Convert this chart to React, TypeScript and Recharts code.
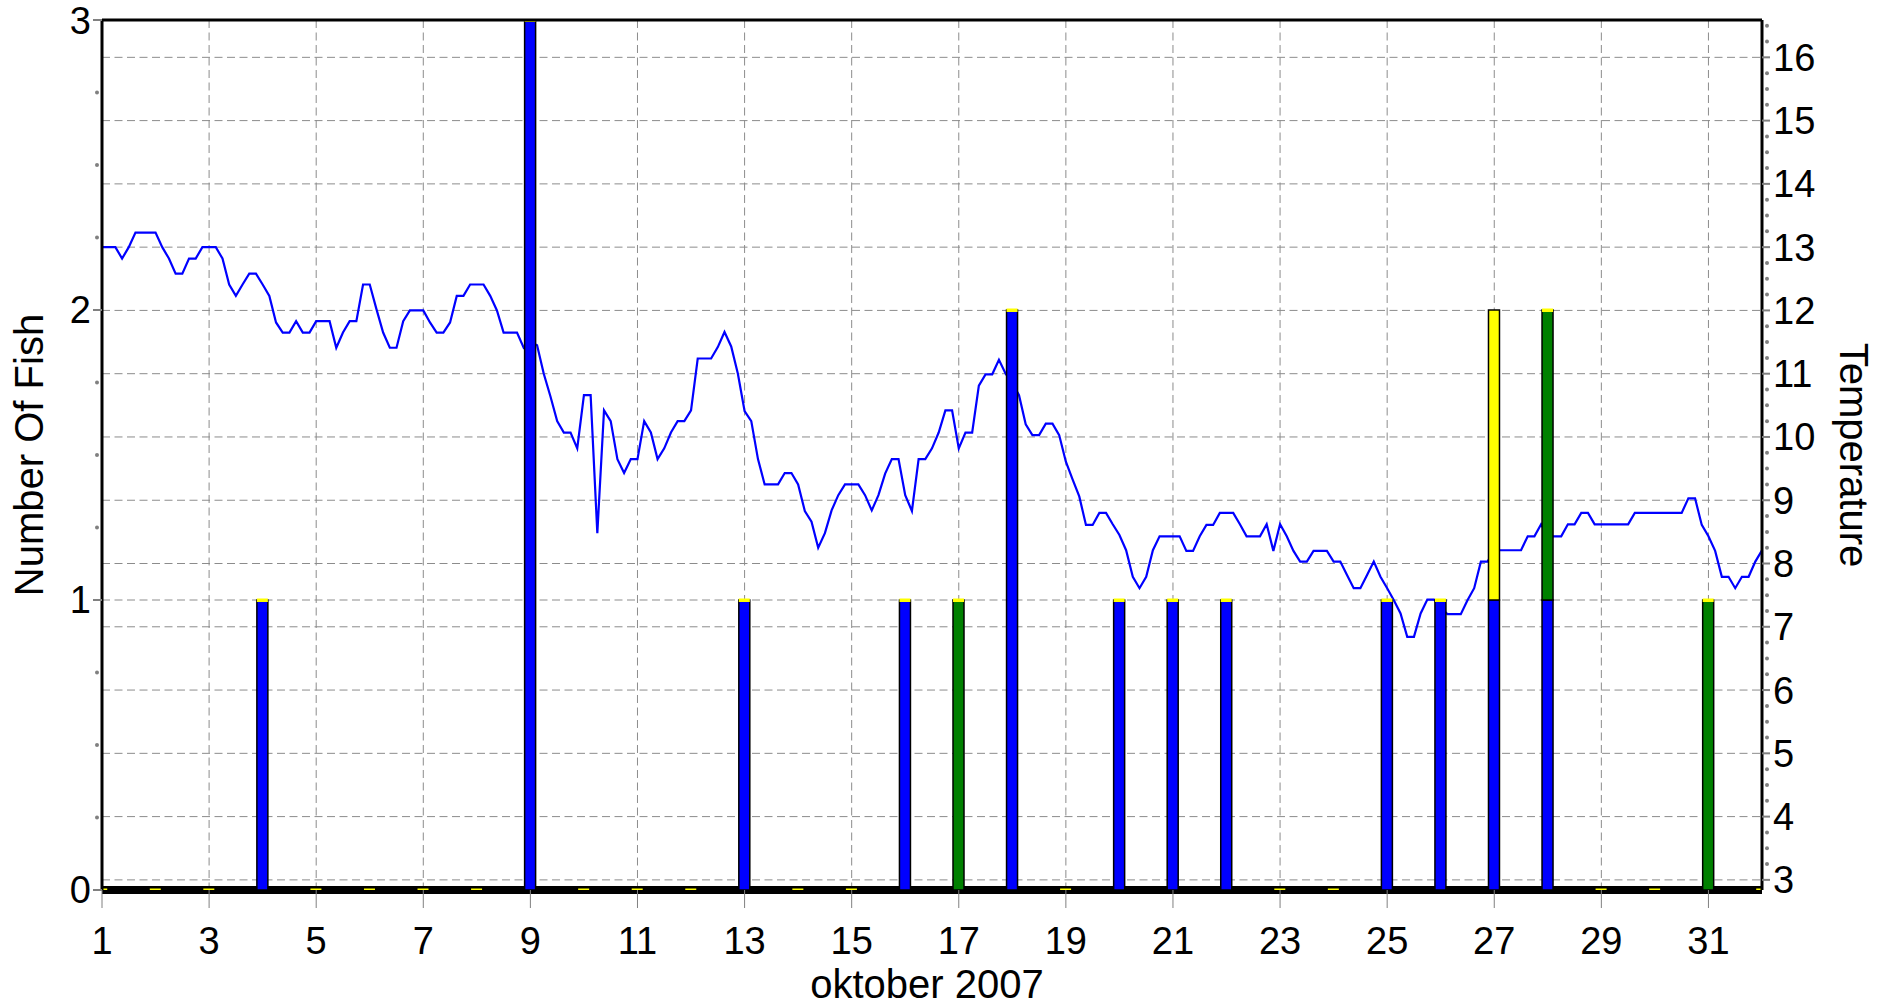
import React from 'react';
import {
  ComposedChart,
  Bar,
  Line,
  XAxis,
  YAxis,
  CartesianGrid,
  ReferenceLine,
  ReferenceDot,
  Label,
} from 'recharts';

const FONT = '"Liberation Sans", Arial, sans-serif';

// days of oktober 2007 (one bar slot per day)
const days = [
  1, 2, 3, 4, 5, 6, 7, 8, 9, 10, 11, 12, 13, 14, 15, 16,
  17, 18, 19, 20, 21, 22, 23, 24, 25, 26, 27, 28, 29, 30, 31, 32,
];
const blueFish = [0, 0, 0, 1, 0, 0, 0, 0, 3, 0, 0, 0, 1, 0, 0, 1, 0, 2, 0, 1, 1, 1, 0, 0, 1, 1, 1, 1, 0, 0, 0, 0];
const greenFish = [0, 0, 0, 0, 0, 0, 0, 0, 0, 0, 0, 0, 0, 0, 0, 0, 1, 0, 0, 0, 0, 0, 0, 0, 0, 0, 0, 1, 0, 0, 1, 0];
const yellowFish = [0, 0, 0, 0, 0, 0, 0, 0, 0, 0, 0, 0, 0, 0, 0, 0, 0, 0, 0, 0, 0, 0, 0, 0, 0, 0, 1, 0, 0, 0, 0, 0];

// 3-hourly temperature readings, starting 1 oktober 00:00 (one row per day)
const tempStartDay = 1;
const tempStepDays = 0.125;
const temperature = [
  13.0, 13.0, 13.0, 12.82, 13.0, 13.23, 13.23, 13.23,
  13.23, 13.0, 12.82, 12.58, 12.58, 12.82, 12.82, 13.0,
  13.0, 13.0, 12.82, 12.41, 12.23, 12.41, 12.58, 12.58,
  12.41, 12.23, 11.81, 11.65, 11.65, 11.83, 11.65, 11.65,
  11.83, 11.83, 11.83, 11.41, 11.65, 11.83, 11.83, 12.41,
  12.41, 12.02, 11.65, 11.41, 11.41, 11.83, 12.0, 12.0,
  12.0, 11.81, 11.65, 11.65, 11.81, 12.23, 12.23, 12.41,
  12.41, 12.41, 12.23, 12.0, 11.65, 11.65, 11.65, 11.41,
  11.5, 11.45, 11.0, 10.64, 10.25, 10.07, 10.07, 9.82,
  10.66, 10.66, 8.48, 10.42, 10.25, 9.65, 9.43, 9.65,
  9.65, 10.25, 10.07, 9.65, 9.82, 10.07, 10.25, 10.25,
  10.42, 11.24, 11.24, 11.24, 11.42, 11.66, 11.43, 11.0,
  10.41, 10.25, 9.65, 9.25, 9.25, 9.25, 9.43, 9.43,
  9.25, 8.83, 8.66, 8.25, 8.48, 8.84, 9.08, 9.25,
  9.25, 9.25, 9.08, 8.84, 9.08, 9.42, 9.65, 9.65,
  9.08, 8.83, 9.65, 9.65, 9.82, 10.07, 10.42, 10.42,
  9.82, 10.07, 10.07, 10.81, 10.99, 10.99, 11.22, 11.0,
  10.85, 10.66, 10.2, 10.03, 10.03, 10.21, 10.21, 10.03,
  9.61, 9.33, 9.06, 8.61, 8.61, 8.8, 8.8, 8.62,
  8.45, 8.21, 7.79, 7.61, 7.79, 8.21, 8.43, 8.43,
  8.43, 8.43, 8.2, 8.2, 8.43, 8.61, 8.61, 8.8,
  8.8, 8.8, 8.62, 8.43, 8.43, 8.43, 8.62, 8.2,
  8.62, 8.43, 8.2, 8.03, 8.03, 8.2, 8.2, 8.2,
  8.03, 8.03, 7.82, 7.61, 7.61, 7.82, 8.03, 7.79,
  7.61, 7.42, 7.21, 6.84, 6.84, 7.21, 7.43, 7.43,
  7.3, 7.2, 7.2, 7.2, 7.42, 7.61, 8.03, 8.03,
  8.21, 8.21, 8.21, 8.21, 8.21, 8.43, 8.43, 8.62,
  8.43, 8.43, 8.43, 8.62, 8.62, 8.8, 8.8, 8.62,
  8.62, 8.62, 8.62, 8.62, 8.62, 8.8, 8.8, 8.8,
  8.8, 8.8, 8.8, 8.8, 8.8, 9.03, 9.03, 8.61,
  8.43, 8.2, 7.79, 7.79, 7.61, 7.79, 7.79, 8.03,
  8.21,
];

const dayTicks = [1, 3, 5, 7, 9, 11, 13, 15, 17, 19, 21, 23, 25, 27, 29, 31];
const fishTicks = [0, 1, 2, 3];
const tempTicks = [3, 4, 5, 6, 7, 8, 9, 10, 11, 12, 13, 14, 15, 16];

const fishData = days.map((day, i) => ({
  day,
  blue: blueFish[i],
  green: greenFish[i],
  yellow: yellowFish[i],
}));

const tempData = temperature.map((temp, i) => ({
  day: tempStartDay + i * tempStepDays,
  temp,
}));

// small grey dots between the labelled ticks (quarter steps)
function quarterTicks(ticks: number[], max: number) {
  const out: number[] = [];
  for (let i = 0; i < ticks.length; i++) {
    for (let q = 1; q < 4; q++) {
      const v = ticks[i] + q * 0.25 * (i + 1 < ticks.length ? ticks[i + 1] - ticks[i] : 1);
      if (v < max) out.push(v);
    }
  }
  return out;
}
const fishMinor = quarterTicks(fishTicks, 3);
const tempMinor = quarterTicks(tempTicks, 16.59);

function segment(fill: string) {
  return (props: any) => {
    const { x, y, width, height } = props;
    if (!height || height <= 0) return <g />;
    return <rect x={x} y={y} width={width} height={height} fill={fill} stroke="#000" strokeWidth={1.5} />;
  };
}

// top of every stack: yellow fish, or a thin yellow cap when there are none
function yellowSegment(props: any) {
  const { x, y, width, height } = props;
  if (!height || height <= 0) {
    return <rect x={x} y={y - 1.5} width={width} height={3.5} fill="#ffff00" />;
  }
  return <rect x={x} y={y} width={width} height={height} fill="#ffff00" stroke="#000" strokeWidth={1.5} />;
}

const tickStyle = { fill: '#000', fontSize: 38, fontFamily: FONT };

export default function App() {
  return (
    <div style={{ position: 'absolute', left: 0, top: 0, width: 1894, height: 1007, background: '#fff' }}>
      <ComposedChart
        width={1894}
        height={1007}
        data={fishData}
        margin={{ top: 20, right: 0, bottom: 0, left: 0 }}
      >
        <CartesianGrid yAxisId="temp" stroke="#8c8c8c" strokeDasharray="8 4.5" />
        <XAxis
          dataKey="day"
          type="number"
          domain={[1, 32]}
          ticks={dayTicks}
          interval={0}
          allowDataOverflow
          height={117}
          axisLine={false}
          tickLine={{ stroke: '#808080', strokeWidth: 1 }}
          tickSize={18}
          tickMargin={19}
          tick={tickStyle}
        >
          <Label
            content={() => (
              <text x={927} y={998} textAnchor="middle" fontSize={40} fontFamily={FONT} fill="#000">
                oktober 2007
              </text>
            )}
          />
        </XAxis>
        {/* separate hidden axis so the bar width follows the daily spacing */}
        <XAxis xAxisId="bars" dataKey="day" type="number" domain={[1, 32]} allowDataOverflow hide />
        <YAxis
          yAxisId="fish"
          orientation="left"
          domain={[0, 3]}
          ticks={fishTicks}
          interval={0}
          allowDataOverflow
          width={102}
          axisLine={{ stroke: '#000', strokeWidth: 3 }}
          tickLine={{ stroke: '#808080', strokeWidth: 2 }}
          tickSize={9}
          tickMargin={2}
          tick={tickStyle}
        >
          <Label
            content={() => (
              <text
                x={43}
                y={455}
                transform="rotate(-90 43 455)"
                textAnchor="middle"
                fontSize={40}
                fontFamily={FONT}
                fill="#000"
              >
                Number Of Fish
              </text>
            )}
          />
        </YAxis>
        <YAxis
          yAxisId="temp"
          orientation="right"
          domain={[2.84, 16.59]}
          ticks={tempTicks}
          interval={0}
          allowDataOverflow
          width={132}
          axisLine={{ stroke: '#000', strokeWidth: 3 }}
          tickLine={{ stroke: '#808080', strokeWidth: 2 }}
          tickSize={8}
          tickMargin={3}
          tick={tickStyle}
        >
          <Label
            content={() => (
              <text
                x={1840}
                y={455}
                transform="rotate(90 1840 455)"
                textAnchor="middle"
                fontSize={40}
                fontFamily={FONT}
                fill="#000"
              >
                Temperature
              </text>
            )}
          />
        </YAxis>

        <ReferenceLine yAxisId="fish" y={1} stroke="#8c8c8c" strokeDasharray="8 4.5" zIndex={-50} />

        <Line
          yAxisId="temp"
          data={tempData}
          dataKey="temp"
          type="linear"
          stroke="#0000ff"
          strokeWidth={2.2}
          dot={false}
          activeDot={false}
          isAnimationActive={false}
          zIndex={250}
        />

        <ReferenceLine yAxisId="fish" y={0} stroke="#000" strokeWidth={8} zIndex={260} />

        <Bar xAxisId="bars" yAxisId="fish" dataKey="blue" stackId="fish" barSize={11} shape={segment('#0000ff')} isAnimationActive={false} />
        <Bar xAxisId="bars" yAxisId="fish" dataKey="green" stackId="fish" barSize={11} shape={segment('#008000')} isAnimationActive={false} />
        <Bar xAxisId="bars" yAxisId="fish" dataKey="yellow" stackId="fish" barSize={11} shape={yellowSegment} isAnimationActive={false} />

        <ReferenceLine yAxisId="fish" y={3} stroke="#000" strokeWidth={3} />

        {fishMinor.map((v) => (
          <ReferenceDot
            key={`f${v}`}
            yAxisId="fish"
            x={1}
            y={v}
            shape={(p: any) => <circle cx={p.cx - 5} cy={p.cy} r={2} fill="#808080" />}
          />
        ))}
        {tempMinor.map((v) => (
          <ReferenceDot
            key={`t${v}`}
            yAxisId="temp"
            x={32}
            y={v}
            shape={(p: any) => <circle cx={p.cx + 5} cy={p.cy} r={2} fill="#808080" />}
          />
        ))}
      </ComposedChart>
    </div>
  );
}
